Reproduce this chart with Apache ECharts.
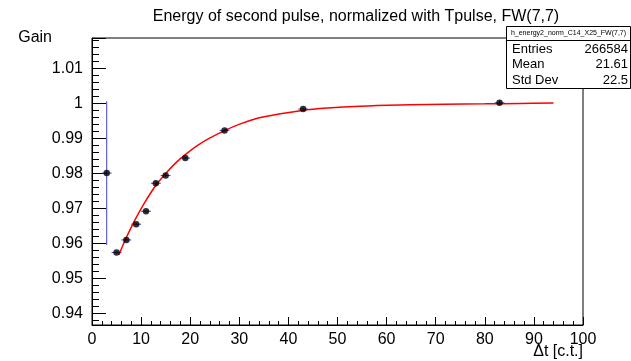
<!DOCTYPE html>
<html>
<head>
<meta charset="utf-8">
<script src="https://cdn.jsdelivr.net/npm/echarts@6/dist/echarts.min.js"></script>
<style>
html,body{margin:0;padding:0;background:#fff;}
#chart{width:631px;height:361px;}
</style>
</head>
<body>
<div id="chart"></div>
<script>
// ---- data ----
const titleText = "Energy of second pulse, normalized with Tpulse, FW(7,7)";
const xValues   = [3, 5, 7, 9, 11, 13, 15, 19, 27, 43, 83];
const gainValues = [0.9800, 0.9573, 0.9609, 0.9654, 0.9691, 0.9771, 0.9793, 0.9843, 0.9922, 0.9983, 1.0001];
const xErrors   = [1, 1, 1, 1, 1, 1, 1, 1, 1, 1, 1];
const yErrors   = [0.0205, 0.0003, 0.0004, 0.0004, 0.0004, 0.0008, 0.0005, 0.0004, 0.0004, 0.0004, 0.0006];
const fitX = [5.5, 6.9, 8.7, 10.4, 12.8, 15.2, 17.9, 21.9, 26.8, 30.5, 34.8, 42.8, 48, 54.6, 64.7, 71.8, 80, 87.1, 94];
const fitY = [0.9567, 0.9613, 0.9665, 0.9708, 0.9761, 0.9802, 0.9840, 0.9883, 0.9920, 0.9942, 0.9960, 0.9979, 0.9986, 0.9991, 0.9995, 0.9997, 0.9998, 0.9999, 1.0000];
const statsName = "h_energy2_norm_C14_X25_FW(7,7)";
const statsLabels = ["Entries", "Mean", "Std Dev"];
const statsValues = ["266584", "21.61", "22.5"];
const xRange = [0, 100];
const yRange = [0.9366, 1.0186];

const FONT = "Liberation Sans, Arial, Helvetica, sans-serif";
const chart = echarts.init(document.getElementById('chart'), null, {renderer: 'canvas'});

const points = xValues.map((x, i) => [x, gainValues[i], xErrors[i], yErrors[i]]);
const fitData = fitX.map((x, i) => [x, fitY[i]]);
const errColor = '#3c3cc8';

const statsGraphics = [];
const bx = 506, by = 26, bw = 125, bh1 = 14, bh = 62;
statsGraphics.push({type:'rect', shape:{x:bx+0.5, y:by+0.5, width:bw-1, height:bh}, style:{fill:'#fff', stroke:'#000', lineWidth:1}, z:100});
statsGraphics.push({type:'line', shape:{x1:bx, y1:by+bh1+0.5, x2:bx+bw, y2:by+bh1+0.5}, style:{stroke:'#000', lineWidth:1}, z:101});
statsGraphics.push({type:'text', x:bx+bw/2, y:by+bh1/2+0.5, style:{text:statsName, font:'7px '+FONT, fill:'#000', align:'center', verticalAlign:'middle'}, z:102});
statsLabels.forEach((lab, i) => {
  const yy = by + bh1 + 9 + i*15.5;
  statsGraphics.push({type:'text', x:bx+6, y:yy, style:{text:lab, font:'13px '+FONT, fill:'#000', align:'left', verticalAlign:'middle'}, z:102});
  statsGraphics.push({type:'text', x:bx+bw-3, y:yy, style:{text:statsValues[i], font:'13px '+FONT, fill:'#000', align:'right', verticalAlign:'middle'}, z:102});
});

const option = {
  backgroundColor: '#fff',
  animation: false,
  title: {
    text: titleText, left: 351, top: 4, textAlign: 'center',
    textStyle: {fontFamily: FONT, fontSize: 16, fontWeight: 'normal', color: '#000'}
  },
  grid: {left: 92, right: 48, top: 38, bottom: 36, show: true, borderColor: '#000', borderWidth: 1, backgroundColor: 'transparent', containLabel: false, outerBoundsMode: 'none'},
  xAxis: {
    type: 'value', min: xRange[0], max: xRange[1], interval: 10,
    name: 'Δt [c.t.]', nameLocation: 'end', nameGap: 0, nameMoveOverlap: false,
    nameTextStyle: {fontFamily: FONT, fontSize: 16, color: '#000', align: 'right', verticalAlign: 'top', padding: [19, 0, 0, 0]},
    axisLine: {show: true, onZero: false, lineStyle: {color: '#000', width: 1}},
    axisTick: {show: true, inside: true, length: 8, lineStyle: {color: '#000'}},
    minorTick: {show: true, splitNumber: 5, length: 4, lineStyle: {color: '#000'}},
    axisLabel: {fontFamily: FONT, fontSize: 16, color: '#000', margin: 7},
    splitLine: {show: false}
  },
  yAxis: {
    type: 'value', min: yRange[0], max: yRange[1], splitNumber: 8,
    name: 'Gain', nameLocation: 'end', nameGap: 0, nameMoveOverlap: false,
    nameTextStyle: {fontFamily: FONT, fontSize: 16, color: '#000', align: 'right', verticalAlign: 'middle', padding: [0, 40, 0, 0]},
    axisLine: {show: true, onZero: false, lineStyle: {color: '#000', width: 1}},
    axisTick: {show: true, inside: true, length: 14, lineStyle: {color: '#000'}},
    minorTick: {show: true, splitNumber: 5, length: 7, lineStyle: {color: '#000'}},
    axisLabel: {fontFamily: FONT, fontSize: 16, color: '#000', margin: 9, showMinLabel: false, showMaxLabel: false,
      formatter: v => String(Math.round(v*100)/100)},
    splitLine: {show: false}
  },
  graphic: statsGraphics,
  series: [
    {
      type: 'custom', name: 'errors', z: 3,
      renderItem: (params, api) => {
        const x = api.value(0), y = api.value(1), ex = api.value(2), ey = api.value(3);
        const l = api.coord([x - ex, y]), r = api.coord([x + ex, y]);
        const t = api.coord([x, y + ey]), b = api.coord([x, y - ey]);
        return {type: 'group', children: [
          {type: 'line', shape: {x1: l[0], y1: l[1], x2: r[0], y2: r[1]}, style: {stroke: errColor, lineWidth: 1}},
          {type: 'line', shape: {x1: t[0], y1: t[1], x2: b[0], y2: b[1]}, style: {stroke: errColor, lineWidth: 1}}
        ]};
      },
      data: points
    },
    {
      type: 'line', name: 'fit', data: fitData, smooth: 0.35, showSymbol: false, z: 4,
      lineStyle: {color: '#ff0000', width: 1.5}
    },
    {
      type: 'scatter', name: 'points', data: points.map(p => [p[0], p[1]]), symbol: 'circle', symbolSize: 6.5, z: 5,
      itemStyle: {color: '#000'}
    }
  ]
};
chart.setOption(option);
</script>
</body>
</html>
